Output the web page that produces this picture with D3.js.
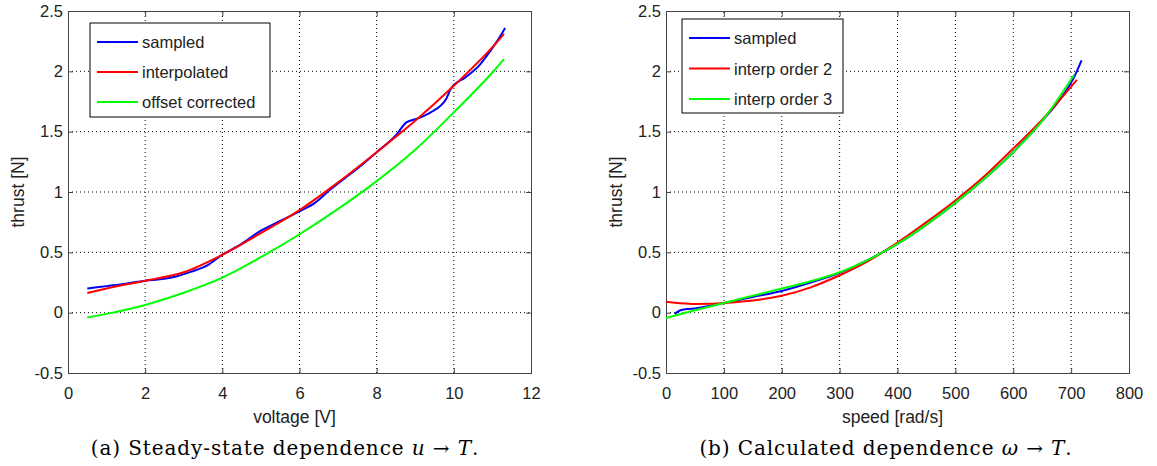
<!DOCTYPE html>
<html lang="en">
  <head>
    <meta charset="utf-8" />
    <title>Thrust dependence</title>
    <script src="https://d3js.org/d3.v7.min.js"></script>
    <style>
      body { margin: 0; background: #fff; }
      text { font-family: "Liberation Sans", Arial, sans-serif; fill: #222; }
      .caption { font-family: "DejaVu Serif", "Liberation Serif", serif; fill: #000; }
    </style>
  </head>
  <body>
    <div id="container"></div>
    <script>
      // left panel: voltage -> thrust
      var voltSampledX = [0.5, 1, 1.5, 2, 2.5, 2.8, 3.2, 3.6, 4, 4.5, 5, 5.5, 6, 6.4, 6.8, 7.2, 7.6, 8, 8.5, 8.77, 9.07, 9.4, 9.8, 9.93, 10.3, 10.66, 10.88, 11.1, 11.33];
      var voltSampledY = [0.2, 0.22, 0.24, 0.265, 0.28, 0.3, 0.34, 0.39, 0.48, 0.57, 0.68, 0.76, 0.84, 0.91, 1.02, 1.12, 1.22, 1.33, 1.47, 1.577, 1.61, 1.66, 1.77, 1.86, 1.95, 2.05, 2.14, 2.24, 2.36];
      var voltFitX = [0.5, 1, 2, 3, 4, 5, 6, 7, 8, 9, 10, 11, 11.3];
      var voltInterpY = [0.163, 0.2, 0.265, 0.335, 0.48, 0.66, 0.85, 1.08, 1.33, 1.59, 1.88, 2.2, 2.31];
      var voltOffsetY = [-0.04, -0.01, 0.064, 0.165, 0.29, 0.46, 0.65, 0.86, 1.09, 1.35, 1.66, 1.99, 2.10];

      // right panel: speed -> thrust
      var speedSampledX = [15, 25, 36, 50, 80, 100, 150, 200, 250, 300, 350, 400, 450, 500, 550, 600, 650, 690, 705, 718];
      var speedSampledY = [-0.01, 0.02, 0.03, 0.035, 0.06, 0.08, 0.13, 0.18, 0.25, 0.33, 0.44, 0.57, 0.73, 0.91, 1.11, 1.33, 1.59, 1.83, 1.95, 2.09];
      var speedOrd2X = [0, 25, 50, 75, 100, 150, 200, 250, 300, 350, 400, 450, 500, 550, 600, 650, 710];
      var speedOrd2Y = [0.09, 0.078, 0.072, 0.073, 0.08, 0.1, 0.14, 0.21, 0.31, 0.43, 0.58, 0.75, 0.93, 1.13, 1.36, 1.6, 1.93];
      var speedOrd3X = [0, 50, 100, 150, 200, 250, 300, 350, 400, 450, 500, 550, 600, 650, 705];
      var speedOrd3Y = [-0.044, 0.02, 0.08, 0.14, 0.2, 0.26, 0.335, 0.44, 0.57, 0.73, 0.91, 1.11, 1.33, 1.59, 1.97];

      var yTicks = [-0.5, 0, 0.5, 1, 1.5, 2, 2.5];
      var voltTicks = [0, 2, 4, 6, 8, 10, 12];
      var speedTicks = [0, 100, 200, 300, 400, 500, 600, 700, 800];

      var width = 1157;
      var height = 466;

      var svg = d3.select("#container")
        .append("svg")
        .attr("width", width)
        .attr("height", height);

      function zip(xs, ys) {
        return xs.map(function (x, i) { return [x, ys[i]]; });
      }

      function panel(opts) {
        var x = d3.scaleLinear().domain(opts.xDomain).range([opts.left, opts.right]);
        var y = d3.scaleLinear().domain([-0.5, 2.5]).range([373, 11]);
        var g = svg.append("g");

        // dotted grid
        g.selectAll(".gx").data(opts.xTicks.slice(1, -1)).enter()
          .append("line")
          .attr("x1", function (d) { return x(d); })
          .attr("x2", function (d) { return x(d); })
          .attr("y1", y(-0.5)).attr("y2", y(2.5))
          .attr("stroke", "#000").attr("stroke-width", 1)
          .attr("stroke-dasharray", "1,3");
        g.selectAll(".gy").data(yTicks.slice(1, -1)).enter()
          .append("line")
          .attr("x1", opts.left).attr("x2", opts.right)
          .attr("y1", function (d) { return y(d); })
          .attr("y2", function (d) { return y(d); })
          .attr("stroke", "#000").attr("stroke-width", 1)
          .attr("stroke-dasharray", "1,3");

        // axes, ticks pointing inward on every side
        var fmt = function (d) { return String(d); };
        g.append("g").attr("transform", "translate(0," + y(-0.5) + ")")
          .call(d3.axisBottom(x).tickValues(opts.xTicks).tickFormat(fmt).tickSize(-5).tickPadding(14))
          .call(styleAxis);
        g.append("g").attr("transform", "translate(0," + y(2.5) + ")")
          .call(d3.axisTop(x).tickValues(opts.xTicks).tickFormat("").tickSize(-5))
          .call(styleAxis);
        g.append("g").attr("transform", "translate(" + opts.left + ",0)")
          .call(d3.axisLeft(y).tickValues(yTicks).tickFormat(fmt).tickSize(-5).tickPadding(5))
          .call(styleAxis);
        g.append("g").attr("transform", "translate(" + opts.right + ",0)")
          .call(d3.axisRight(y).tickValues(yTicks).tickFormat("").tickSize(-5))
          .call(styleAxis);

        var line = d3.line()
          .x(function (d) { return x(d[0]); })
          .y(function (d) { return y(d[1]); })
          .curve(d3.curveMonotoneX);

        opts.series.forEach(function (s) {
          g.append("path")
            .datum(zip(s.xs, s.ys))
            .attr("d", line)
            .attr("fill", "none")
            .attr("stroke", s.color)
            .attr("stroke-width", 2);
        });

        // axis labels
        g.append("text")
          .attr("x", (opts.left + opts.right) / 2 - 5).attr("y", 423)
          .attr("text-anchor", "middle")
          .style("font-size", "17.5px")
          .text(opts.xLabel);
        g.append("text")
          .attr("transform", "translate(" + (opts.left - 44) + "," + y(1) + ") rotate(-90)")
          .attr("text-anchor", "middle")
          .style("font-size", "17.5px")
          .text("thrust [N]");

        // legend
        var lg = g.append("g").attr("transform", "translate(" + opts.legend[0] + "," + opts.legend[1] + ")");
        lg.append("rect")
          .attr("width", opts.legend[2]).attr("height", opts.legend[3])
          .attr("fill", "#fff").attr("stroke", "#000").attr("stroke-width", 1);
        opts.series.forEach(function (s, i) {
          var cy = opts.legendRow0 + i * opts.legendStep;
          lg.append("line")
            .attr("x1", 7).attr("x2", 48)
            .attr("y1", cy).attr("y2", cy)
            .attr("stroke", s.color).attr("stroke-width", 2);
          lg.append("text")
            .attr("x", 52).attr("y", cy + 6)
            .style("font-size", "16.5px")
            .text(s.name);
        });

        // caption below the panel
        var cap = svg.append("text")
          .attr("class", "caption")
          .attr("x", opts.captionX).attr("y", 455)
          .attr("text-anchor", "middle")
          .style("font-size", "20px")
          .style("letter-spacing", "0.9px");
        cap.append("tspan").text(opts.caption[0]);
        cap.append("tspan").style("font-style", "italic").text(opts.caption[1]);
        cap.append("tspan").text(" \u2192 ");
        cap.append("tspan").style("font-style", "italic").text("T");
        cap.append("tspan").text(".");
      }

      function styleAxis(sel) {
        sel.select(".domain").attr("stroke", "#444");
        sel.selectAll(".tick line").attr("stroke", "#444");
        sel.selectAll(".tick text")
          .style("font-size", "16.5px")
          .style("font-family", "'Liberation Sans', Arial, sans-serif")
          .attr("fill", "#222");
      }

      panel({
        xDomain: [0, 12], left: 68, right: 531, xTicks: voltTicks,
        xLabel: "voltage [V]",
        legend: [90, 23, 180, 94], legendRow0: 19, legendStep: 30,
        caption: ["(a) Steady-state dependence ", "u"], captionX: 285,
        series: [
          { name: "sampled", color: "#0000ff", xs: voltSampledX, ys: voltSampledY },
          { name: "interpolated", color: "#ff0000", xs: voltFitX, ys: voltInterpY },
          { name: "offset corrected", color: "#00ff00", xs: voltFitX, ys: voltOffsetY }
        ]
      });

      panel({
        xDomain: [0, 800], left: 666, right: 1129, xTicks: speedTicks,
        xLabel: "speed [rad/s]",
        legend: [682, 19, 161, 94], legendRow0: 19, legendStep: 30.5,
        caption: ["(b) Calculated dependence ", "\u03c9"], captionX: 886,
        series: [
          { name: "sampled", color: "#0000ff", xs: speedSampledX, ys: speedSampledY },
          { name: "interp order 2", color: "#ff0000", xs: speedOrd2X, ys: speedOrd2Y },
          { name: "interp order 3", color: "#00ff00", xs: speedOrd3X, ys: speedOrd3Y }
        ]
      });
    </script>
  </body>
</html>
